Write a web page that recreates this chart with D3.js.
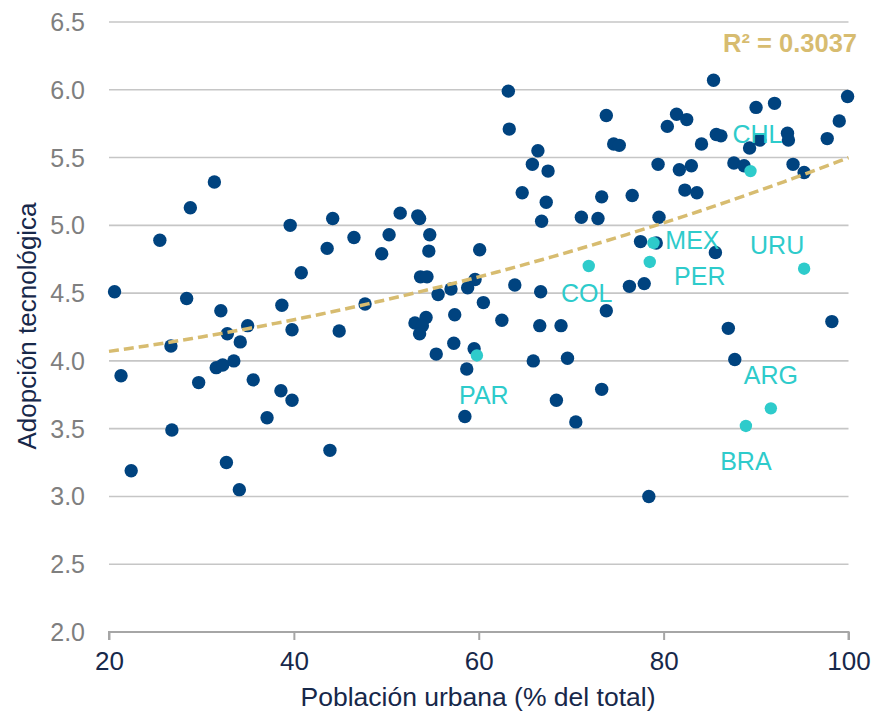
<!DOCTYPE html>
<html>
<head>
<meta charset="utf-8">
<script src="https://cdn.jsdelivr.net/npm/d3@7"></script>
<style>
  html, body { margin: 0; padding: 0; background: #ffffff; }
  svg { display: block; }
  text { font-family: "Liberation Sans", Arial, sans-serif; }
</style>
</head>
<body>
<svg id="chart" width="873" height="714"></svg>
<script>
// ---- Data ----
const xTicks = [20, 40, 60, 80, 100];
const yTicks = [2.0, 2.5, 3.0, 3.5, 4.0, 4.5, 5.0, 5.5, 6.0, 6.5];
const xTitle = "Población urbana (% del total)";
const yTitle = "Adopción tecnológica";
const r2Label = "R² = 0.3037";
// polynomial (order 2) trend line coefficients: a + b·x + c·x²
const trendCoef = [3.919, 0.0055, 0.000103];
const trendRange = [20, 100];

// other countries: [urban population %, technology adoption]
const otherX = [20.6,21.3,22.4,25.5,26.8,26.7,28.4,28.8,29.7,31.4,31.6,32.1,32.3,32.8,32.7,33.5,34.1,34.2,35.0,35.6,
  37.1,38.6,38.7,39.6,39.8,39.8,40.8,43.6,43.9,44.2,44.9,46.5,47.7,49.5,50.3,51.5,53.4,53.6,54.7,54.6,
  53.7,54.4,55.6,57.0,58.8,59.6,60.1,60.5,63.9,66.7,64.7,67.3,66.8,71.1,53.1,54.3,53.9,53.6,57.4,57.3,
  55.4,59.5,58.7,58.5,62.5,66.6,68.9,65.9,69.6,68.4,70.5,63.2,63.3,66.4,65.8,67.5,72.9,73.3,76.6,73.8,
  74.6,75.2,79.4,80.4,81.4,82.5,81.7,83.0,79.5,77.5,79.2,76.3,77.9,73.8,73.3,78.4,85.4,99.9,90.0,92.0,
  99.0,85.7,86.2,84.1,90.4,89.3,93.4,93.5,97.7,87.6,88.7,94.0,95.2,82.3,83.6,85.6,87.0,98.2,87.7];
const otherY = [4.51,3.89,3.19,4.89,3.49,4.11,4.46,5.13,3.84,5.32,3.95,4.37,3.97,4.20,3.25,4.00,3.05,4.14,4.26,3.86,
  3.58,3.78,4.41,5.00,4.23,3.71,4.65,4.83,3.34,5.05,4.22,4.91,4.42,4.79,4.93,5.09,5.07,5.05,4.93,4.81,
  4.62,4.62,4.49,4.53,4.54,4.60,4.82,4.43,4.56,4.51,5.24,5.17,5.03,5.06,4.28,4.32,4.26,4.20,4.34,4.13,
  4.05,4.09,3.94,3.59,4.30,4.26,4.26,4.00,4.02,3.71,3.55,5.99,5.71,5.55,5.45,5.40,5.05,5.21,5.22,5.81,
  5.60,5.59,5.45,5.73,5.82,5.78,5.41,5.44,5.06,4.88,4.87,4.55,4.57,4.37,3.79,3.00,6.07,5.95,5.87,5.90,
  5.77,5.67,5.66,5.60,5.63,5.57,5.68,5.63,5.64,5.46,5.44,5.45,5.39,5.26,5.24,4.80,4.24,4.29,4.01];

// highlighted Latin American countries
const latamCodes = ["CHL", "MEX", "PER", "COL", "PAR", "URU", "ARG", "BRA"];
const latamX = [89.4, 78.9, 78.5, 71.9, 59.8, 95.2, 91.6, 88.9];
const latamY = [5.40, 4.87, 4.73, 4.70, 4.04, 4.68, 3.65, 3.52];

// ---- Styling / layout (not data) ----
const labelOffsets = { // pixel offsets of label centre/baseline from the point
  CHL: [7, -28], MEX: [39, 6], PER: [50, 23], COL: [-2, 36],
  PAR: [7, 49], URU: [-27, -15], ARG: [0, -24], BRA: [0, 44]
};
const navy = "#00437f", cyan = "#2ecbcb", gold = "#d7bc70";
const textNavy = "#17284a", gray = "#7f7f7f";

const svg = d3.select("#chart");
const x = d3.scaleLinear().domain([20, 100]).range([109, 848.5]);
const y = d3.scaleLinear().domain([2, 6.5]).range([632, 22]);

// gridlines
svg.append("g").selectAll("line").data(yTicks.filter(d => d > 2)).join("line")
  .attr("x1", x(20)).attr("x2", x(100))
  .attr("y1", d => y(d)).attr("y2", d => y(d))
  .attr("stroke", "#c6c6c6").attr("stroke-width", 1.6);

// y tick labels
svg.append("g").selectAll("text").data(yTicks).join("text")
  .attr("x", 85).attr("y", d => y(d))
  .attr("text-anchor", "end").attr("dominant-baseline", "central")
  .attr("font-size", 25).attr("fill", gray)
  .text(d => d.toFixed(1));

// x axis
const xAxis = d3.axisBottom(x).tickValues(xTicks).tickSize(8).tickPadding(12)
  .tickFormat(d3.format("d"));
const gx = svg.append("g").attr("transform", `translate(0,${y(2)})`).call(xAxis);
gx.select(".domain").attr("stroke", "#a6a6a6").attr("stroke-width", 2)
  .attr("d", `M${x(20)},8V0H${x(100)}V8`);
gx.selectAll(".tick line").attr("stroke", "#a6a6a6").attr("stroke-width", 2);
gx.selectAll(".tick text").attr("font-size", 26).attr("fill", textNavy)
  .attr("font-family", '"Liberation Sans", Arial, sans-serif');

// axis titles
svg.append("text").attr("x", 478).attr("y", 706).attr("text-anchor", "middle")
  .attr("font-size", 26.5).attr("fill", textNavy).text(xTitle);
svg.append("text").attr("transform", `translate(36,326) rotate(-90)`)
  .attr("text-anchor", "middle").attr("font-size", 26).attr("fill", textNavy).text(yTitle);

// points
const others = otherX.map((v, i) => ({ x: v, y: otherY[i] }));
const latam = latamCodes.map((c, i) => ({ code: c, x: latamX[i], y: latamY[i] }));

svg.append("g").selectAll("circle").data(others).join("circle")
  .attr("cx", d => x(d.x)).attr("cy", d => y(d.y)).attr("r", 6.7).attr("fill", navy);

// trend line
const trendXs = d3.range(trendRange[0], trendRange[1] + 0.01, 1);
const poly = v => trendCoef[0] + trendCoef[1] * v + trendCoef[2] * v * v;
const line = d3.line().x(d => x(d)).y(d => y(poly(d)));
svg.append("path").datum(trendXs).attr("d", line)
  .attr("fill", "none").attr("stroke", gold).attr("stroke-width", 3.5)
  .attr("stroke-dasharray", "10,5");

svg.append("g").selectAll("circle").data(latam).join("circle")
  .attr("cx", d => x(d.x)).attr("cy", d => y(d.y)).attr("r", 6.2).attr("fill", cyan);

svg.append("g").selectAll("text").data(latam).join("text")
  .attr("x", d => x(d.x) + labelOffsets[d.code][0])
  .attr("y", d => y(d.y) + labelOffsets[d.code][1])
  .attr("text-anchor", "middle").attr("font-size", 25).attr("fill", cyan)
  .text(d => d.code);

// R² label
svg.append("text").attr("x", 857).attr("y", 52).attr("text-anchor", "end")
  .attr("font-size", 25.5).attr("font-weight", "bold").attr("fill", gold).text(r2Label);
</script>
</body>
</html>
